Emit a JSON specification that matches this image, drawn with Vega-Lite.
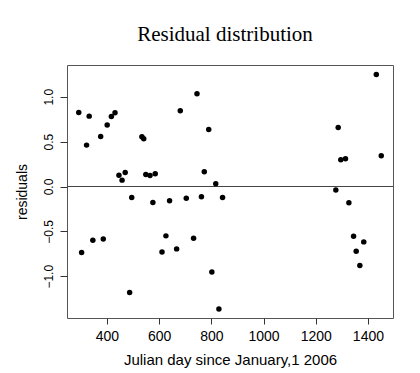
{
  "$schema": "https://vega.github.io/schema/vega-lite/v6.json",
  "autosize": "none",
  "width": 326,
  "height": 253,
  "padding": {"left": 67, "top": 65, "right": 27, "bottom": 55},
  "background": "white",
  "title": {
    "text": "Residual distribution",
    "font": "Liberation Serif",
    "fontSize": 21,
    "fontWeight": "normal",
    "color": "black",
    "baseline": "alphabetic",
    "offset": 3,
    "dx": -5
  },
  "config": {
    "view": {"stroke": "#555555", "strokeWidth": 1},
    "axis": {
      "grid": false,
      "domain": false,
      "tickColor": "#333333",
      "labelColor": "black",
      "titleColor": "black",
      "labelFont": "Liberation Sans",
      "titleFont": "Liberation Sans",
      "titleFontWeight": "normal"
    }
  },
  "data": {
    "values": [
      {"day": 292, "residual": 0.825},
      {"day": 303, "residual": -0.736},
      {"day": 322, "residual": 0.461},
      {"day": 332, "residual": 0.784},
      {"day": 346, "residual": -0.599},
      {"day": 376, "residual": 0.558},
      {"day": 386, "residual": -0.584},
      {"day": 401, "residual": 0.684},
      {"day": 417, "residual": 0.781},
      {"day": 431, "residual": 0.822},
      {"day": 446, "residual": 0.126},
      {"day": 458, "residual": 0.071},
      {"day": 470, "residual": 0.156},
      {"day": 487, "residual": -1.182},
      {"day": 495, "residual": -0.123},
      {"day": 534, "residual": 0.554},
      {"day": 541, "residual": 0.532},
      {"day": 549, "residual": 0.134},
      {"day": 565, "residual": 0.123},
      {"day": 576, "residual": -0.178},
      {"day": 585, "residual": 0.141},
      {"day": 611, "residual": -0.729},
      {"day": 626, "residual": -0.550},
      {"day": 640, "residual": -0.160},
      {"day": 667, "residual": -0.695},
      {"day": 681, "residual": 0.844},
      {"day": 704, "residual": -0.130},
      {"day": 732, "residual": -0.576},
      {"day": 745, "residual": 1.033},
      {"day": 762, "residual": -0.115},
      {"day": 773, "residual": 0.164},
      {"day": 790, "residual": 0.636},
      {"day": 802, "residual": -0.952},
      {"day": 817, "residual": 0.030},
      {"day": 829, "residual": -1.364},
      {"day": 843, "residual": -0.123},
      {"day": 1277, "residual": -0.039},
      {"day": 1286, "residual": 0.658},
      {"day": 1296, "residual": 0.297},
      {"day": 1314, "residual": 0.310},
      {"day": 1327, "residual": -0.182},
      {"day": 1345, "residual": -0.554},
      {"day": 1355, "residual": -0.721},
      {"day": 1369, "residual": -0.881},
      {"day": 1384, "residual": -0.617},
      {"day": 1432, "residual": 1.249},
      {"day": 1451, "residual": 0.342}
    ]
  },
  "layer": [
    {
      "mark": {"type": "rule", "color": "#444444", "strokeWidth": 1},
      "encoding": {"y": {"datum": 0, "type": "quantitative"}}
    },
    {
      "mark": {"type": "circle", "size": 30, "color": "black", "opacity": 1},
      "encoding": {
        "x": {
          "field": "day",
          "type": "quantitative",
          "scale": {"domain": [247, 1496], "nice": false, "zero": false},
          "axis": {
            "values": [400, 600, 800, 1000, 1200, 1400],
            "format": "d",
            "title": "Julian day since January,1 2006",
            "tickSize": 6,
            "labelPadding": 5,
            "labelFontSize": 14,
            "titleFontSize": 15,
            "titlePadding": 9
          }
        },
        "y": {
          "field": "residual",
          "type": "quantitative",
          "scale": {"domain": [-1.465, 1.3536], "nice": false, "zero": false},
          "axis": {
            "values": [-1, -0.5, 0, 0.5, 1],
            "format": ".1f",
            "title": "residuals",
            "tickSize": 7,
            "labelAngle": -90,
            "labelAlign": "center",
            "labelBaseline": "bottom",
            "labelPadding": 5,
            "labelFontSize": 12,
            "titleFontSize": 14,
            "titlePadding": 13
          }
        }
      }
    }
  ]
}
